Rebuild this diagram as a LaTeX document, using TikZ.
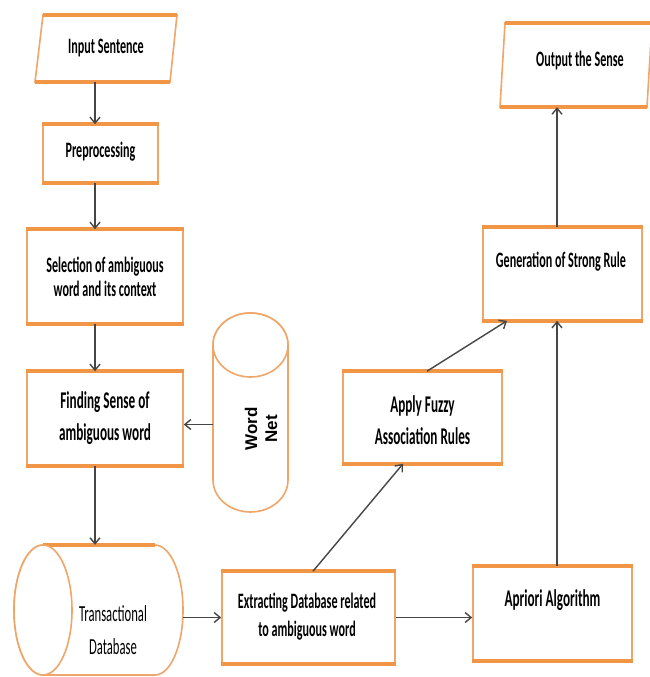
\documentclass[tikz,border=0pt]{standalone}
\usepackage{fontspec}
\usetikzlibrary{arrows.meta}
\newfontfamily\lblfont[FakeStretch=0.55]{Carlito}
\newfontfamily\wnfont{Liberation Sans}
\definecolor{boxorange}{RGB}{240,150,70}
\definecolor{sideorange}{RGB}{240,165,105}
\definecolor{arrowgray}{RGB}{70,70,70}
\begin{document}
\begin{tikzpicture}[x=1pt,y=-1pt,
  box/.style={draw=sideorange, line width=1.6pt, fill=white, inner sep=0pt},
  edgeline/.style={draw=boxorange, line width=3.5pt},
  txt/.style={font=\lblfont\bfseries\fontsize{22}{25}\selectfont, align=center, inner sep=0pt},
  bigtxt/.style={font=\lblfont\bfseries\fontsize{24}{32}\selectfont, align=center, inner sep=0pt},
  cyl/.style={draw=sideorange, line width=1.6pt, fill=white},
  ghost/.style={inner sep=0pt},
  arr/.style={draw=arrowgray, line width=1.4pt, -{Straight Barb[length=6pt,width=10pt]}},
]
\fill[white] (0,0) rectangle (649,677);
\useasboundingbox (0,0) rectangle (649,677);

% parallelograms
\node[ghost, minimum width=142pt, minimum height=67pt] (inp) at (106,48.5) {};
\draw[cyl] (43,15) -- (177,15) -- (170,82) -- (35,82) -- cycle;
\draw[edgeline] (43,15) -- (177,15);
\draw[edgeline] (35,82) -- (170,82);
\node[ghost, minimum width=148pt, minimum height=84pt] (out) at (574,65) {};
\draw[cyl] (505,23) -- (652,23) -- (647,107) -- (500,107) -- cycle;
\draw[edgeline] (505,23) -- (652,23);
\draw[edgeline] (500,107) -- (647,107);

% boxes
\node[box, minimum width=115pt, minimum height=57pt] (pre) at (100.5,153.5) {};
\node[box, minimum width=156pt, minimum height=93pt] (sel) at (105,276.5) {};
\node[box, minimum width=156pt, minimum height=93pt] (find) at (105,418.5) {};
\node[box, minimum width=173pt, minimum height=91pt] (ext) at (308.5,617.5) {};
\node[box, minimum width=159pt, minimum height=93pt] (apr) at (552.5,613.5) {};
\node[box, minimum width=159pt, minimum height=91pt] (fuz) at (422.5,417.5) {};
\node[box, minimum width=159pt, minimum height=92pt] (gen) at (562.5,274) {};
\foreach \n in {pre,sel,find,ext,apr,fuz,gen}{
  \draw[edgeline] (\n.north west) -- (\n.north east);
  \draw[edgeline] (\n.south west) -- (\n.south east);
}

% WordNet cylinder (vertical)
\node[ghost, minimum width=75pt, minimum height=199pt] (wn) at (250.5,412.5) {};
\draw[cyl] (213,345) -- (213,480) arc[start angle=180, end angle=0, x radius=37.5, y radius=32]
  -- (288,345) arc[start angle=0, end angle=-180, x radius=37.5, y radius=32] -- cycle;
\draw[cyl] (250.5,345) ellipse[x radius=37.5, y radius=32];

% Transactional database cylinder (horizontal)
\node[ghost, minimum width=169pt, minimum height=130pt] (tdb) at (98.5,610) {};
\draw[cyl] (43,545) -- (155,545) arc[start angle=-90, end angle=90, x radius=28, y radius=65]
  -- (43,675) arc[start angle=90, end angle=270, x radius=29, y radius=65] -- cycle;
\draw[edgeline] (43,545) -- (155,545);
\draw[cyl] (43,610) ellipse[x radius=29, y radius=65];

% texts
\node[txt] (t-inp) at (106,48) {Input Sentence};
\node[txt] (t-pre) at (100.5,152) {Preprocessing};
\node[txt, font=\lblfont\bfseries\fontsize{22}{24}\selectfont] (t-sel) at (105,277) {Selection of ambiguous\\word and its context};
\node[bigtxt] (t-find) at (105,418) {Finding Sense of\\ambiguous word};
\node[font=\wnfont\bfseries\fontsize{17}{20}\selectfont, rotate=90, align=center, inner sep=0pt] (t-wn) at (261,429) {Word\\Net};
\node[font=\lblfont\fontsize{23}{33}\selectfont, align=center, inner sep=0pt] (t-tdb) at (113,630) {Transactional\\Database};
\node[txt, font=\lblfont\bfseries\fontsize{22}{28}\selectfont] (t-ext) at (307,617) {Extracting Database related\\to ambiguous word};
\node[bigtxt] (t-fuz) at (422.5,420) {Apply Fuzzy\\Association Rules};
\node[bigtxt] (t-apr) at (552.5,600) {Apriori Algorithm};
\node[txt] (t-gen) at (561,262) {Generation of Strong Rule};
\node[txt] (t-out) at (580,61) {Output the Sense};

% connectors
\coordinate (spine) at (95,0);
\coordinate (rspine) at (557,0);
\draw[arr] (inp.south -| spine) -- (pre.north -| spine);
\draw[arr] (pre.south -| spine) -- (sel.north -| spine);
\draw[arr] (sel.south -| spine) -- (find.north -| spine);
\draw[arr] ([yshift=-6pt]wn.west |- find.east) -- ([yshift=-6pt]find.east);
\draw[arr] (find.south -| spine) -- (tdb.north -| spine);
\draw[arr] (tdb.east |- ext.west) -- (ext.west);
\draw[arr] (ext.east) -- (ext.east -| apr.west);
\draw[arr] ([xshift=4.5pt]ext.north) -- ([xshift=-19.5pt]fuz.south);
\draw[arr] ([xshift=4.5pt]fuz.north) -- ([xshift=-55.5pt]gen.south);
\draw[arr] (apr.north -| rspine) -- (gen.south -| rspine);
\draw[arr] (gen.north -| rspine) -- (out.south -| rspine);
\end{tikzpicture}
\end{document}
